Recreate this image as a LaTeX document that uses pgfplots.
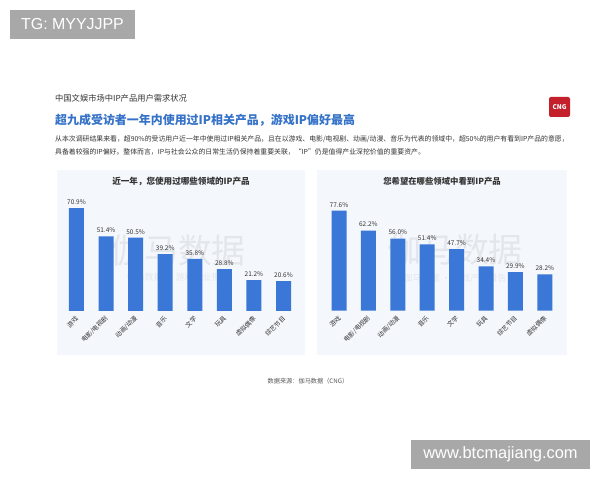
\documentclass[border=0pt]{standalone}
\usepackage{pgfplots}
\pgfplotsset{compat=1.18}
\usepackage{fontspec}
\setmainfont{Noto Sans CJK SC}
\newfontfamily\arial{Liberation Sans}
\definecolor{barblue}{HTML}{3A77D6}
\definecolor{titleblue}{HTML}{3572C8}
\definecolor{panelbg}{HTML}{F4F7FB}
\definecolor{boxgray}{HTML}{A8A8A8}
\definecolor{txt}{HTML}{333333}
\definecolor{wm}{HTML}{E3E6EB}
\definecolor{cngred}{HTML}{C4202B}
\pgfplotsset{
  ipbars/.style={
    scale only axis, anchor=south west, clip=false,
    xmin=-0.5, xmax=7.5, ymin=0, ymax=80,
    ybar, bar width=15bp,
    axis lines*=left, axis line style={draw=none},
    ytick=\empty, xtick={0,...,7}, major tick length=0pt,
    /pgf/number format/assume math mode=true,
    xticklabel style={font=\fontsize{6.3}{7}\selectfont, text=txt, xshift=3bp, yshift=-4bp, rotate=45, anchor=east},
    nodes near coords={\pgfmathprintnumber[fixed,fixed zerofill,precision=1,assume math mode=true]{\pgfplotspointmeta}\%},
    every node near coord/.append style={font=\fontsize{6.5}{7}\selectfont, text=txt},
  }
}
\begin{document}
\begin{tikzpicture}[x=1bp,y=1bp]
\fill[white] (0,0) rectangle (600,480);
% corner boxes
\fill[boxgray] (10,441) rectangle (135,470);
\node[white, font=\arial\fontsize{16}{16}\selectfont] at (72.5,455.5) {TG: MYYJJPP};
\fill[boxgray] (411,11) rectangle (590,40);
\node[white, font=\arial\fontsize{16.5}{16.5}\selectfont] at (500.5,25.5) {www.btcmajiang.com};
% header
\node[anchor=west, inner sep=0, text=txt, font=\fontsize{8.3}{9}\selectfont] at (55,382) {中国文娱市场中IP产品用户需求状况};
\node[anchor=west, inner sep=0, text=titleblue, font=\bfseries\fontsize{12}{13}\selectfont] at (55,360) {超九成受访者一年内使用过IP相关产品，游戏IP偏好最高};
\node[anchor=west, inner sep=0, text=txt, font=\fontsize{6.9}{7}\selectfont] at (55,341) {从本次调研结果来看，超90\%的受访用户近一年中使用过IP相关产品，且在以游戏、电影/电视剧、动画/动漫、音乐为代表的领域中，超50\%的用户有看到IP产品的意愿，};
\node[anchor=west, inner sep=0, text=txt, font=\fontsize{6.9}{7}\selectfont] at (55,328) {具备着较强的IP偏好。整体而言，IP与社会公众的日常生活仍保持着重要关联，“IP”仍是值得产业深挖价值的重要资产。};
% logo
\fill[cngred, rounded corners=2bp] (549,363) rectangle (570,383);
\node[white, font=\bfseries\fontsize{6.5}{7}\selectfont] at (559.5,373) {CNG};
% panels
\fill[panelbg] (57,125) rectangle (305,310);
\fill[panelbg] (317,125) rectangle (567,310);
\node[text=txt, font=\bfseries\fontsize{8.6}{9}\selectfont] at (181,299) {近一年，您使用过哪些领域的IP产品};
\node[text=txt, font=\bfseries\fontsize{8.4}{9}\selectfont] at (442,299) {您希望在哪些领域中看到IP产品};
% watermarks
\node[text=wm, font=\fontsize{34}{36}\selectfont] at (178,229) {伽马数据};
\node[text=wm, font=\fontsize{9}{10}\selectfont] at (178,203) {伽马数据 · 游戏产业报告};
\node[text=wm, font=\fontsize{34}{36}\selectfont] at (455,230) {伽马数据};
\node[text=wm, font=\fontsize{9}{10}\selectfont] at (455,202) {伽马数据 · 游戏产业报告};
% left chart
\begin{axis}[ipbars, at={(61.7bp,169bp)}, width=236.6bp, height=116.2bp,
  xticklabels={游戏,电影/电视剧,动画/动漫,音乐,文学,玩具,虚拟偶像,综艺节目}]
\addplot[fill=barblue, draw=none] coordinates {(0,70.9) (1,51.4) (2,50.5) (3,39.2) (4,35.8) (5,28.8) (6,21.2) (7,20.6)};
\end{axis}
% right chart
\begin{axis}[ipbars, at={(324.3bp,169.3bp)}, width=235.2bp, height=103.1bp,
  xticklabels={游戏,电影/电视剧,动画/动漫,音乐,文学,玩具,综艺节目,虚拟偶像}]
\addplot[fill=barblue, draw=none] coordinates {(0,77.6) (1,62.2) (2,56.0) (3,51.4) (4,47.7) (5,34.4) (6,29.9) (7,28.2)};
\end{axis}
% source
\node[text=black!65, font=\fontsize{6.2}{7}\selectfont] at (308,99) {数据来源：伽马数据（CNG）};
\end{tikzpicture}
\end{document}
